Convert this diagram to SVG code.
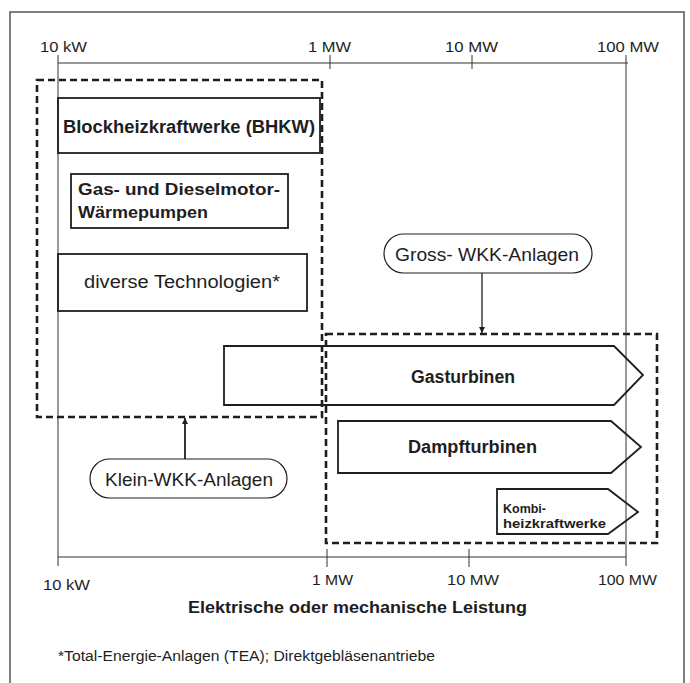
<svg xmlns="http://www.w3.org/2000/svg" width="690" height="683" viewBox="0 0 690 683">
<style>
text{font-family:"Liberation Sans",Arial,sans-serif;fill:#1e1e1e}
.b{font-weight:bold}
.box{fill:none;stroke:#1e1e1e;stroke-width:1.8}
.pill{fill:#fff;stroke:#1e1e1e;stroke-width:1.2}
.dash{fill:none;stroke:#1e1e1e;stroke-width:2.6;stroke-dasharray:7 4}
.ax{fill:none;stroke:#333;stroke-width:1}
.tick{font-size:14.5px}
</style>
<defs>
<marker id="ah" viewBox="0 0 10 10" refX="10" refY="5" markerWidth="6" markerHeight="7" orient="auto" markerUnits="userSpaceOnUse">
<path d="M0,0 L10,5 L0,10 z" fill="#1e1e1e"/>
</marker>
</defs>
<rect x="0" y="0" width="690" height="683" fill="#fff"/>
<rect x="10" y="12" width="674" height="700" fill="none" stroke="#555" stroke-width="1.5"/>

<g id="axes">
<line class="ax" x1="58" y1="63" x2="628" y2="63"/>
<line class="ax" x1="58" y1="55" x2="58" y2="566"/>
<line class="ax" x1="626" y1="55" x2="626" y2="566"/>
<line class="ax" x1="330" y1="55" x2="330" y2="69"/>
<line class="ax" x1="472" y1="55" x2="472" y2="69"/>
<line class="ax" x1="58" y1="557" x2="626" y2="557"/>
<line class="ax" x1="327" y1="549" x2="327" y2="567"/>
<line class="ax" x1="469" y1="549" x2="469" y2="567"/>
<text class="tick" x="40" y="52" textLength="47" lengthAdjust="spacingAndGlyphs">10 kW</text>
<text class="tick" x="308" y="52" textLength="43" lengthAdjust="spacingAndGlyphs">1 MW</text>
<text class="tick" x="445" y="52" textLength="53" lengthAdjust="spacingAndGlyphs">10 MW</text>
<text class="tick" x="597" y="52" textLength="62" lengthAdjust="spacingAndGlyphs">100 MW</text>
<text class="tick" x="43" y="590" textLength="47" lengthAdjust="spacingAndGlyphs">10 kW</text>
<text class="tick" x="312" y="585" textLength="41" lengthAdjust="spacingAndGlyphs">1 MW</text>
<text class="tick" x="447" y="585" textLength="52" lengthAdjust="spacingAndGlyphs">10 MW</text>
<text class="tick" x="598" y="585" textLength="59" lengthAdjust="spacingAndGlyphs">100 MW</text>
<text class="b" x="188" y="613" font-size="17" textLength="339" lengthAdjust="spacingAndGlyphs">Elektrische oder mechanische Leistung</text>
<text x="58" y="661" font-size="14" textLength="377" lengthAdjust="spacingAndGlyphs">*Total-Energie-Anlagen (TEA); Direktgebläsenantriebe</text>
</g>

<g id="bhkw">
<rect class="box" x="58" y="98" width="262" height="55"/>
<text class="b" x="63" y="133" font-size="18" textLength="252" lengthAdjust="spacingAndGlyphs">Blockheizkraftwerke (BHKW)</text>
</g>
<g id="gas">
<rect class="box" x="71" y="174" width="217" height="54"/>
<text class="b" x="78" y="195" font-size="17" textLength="202" lengthAdjust="spacingAndGlyphs">Gas- und  Dieselmotor-</text>
<text class="b" x="78" y="218" font-size="17" textLength="130" lengthAdjust="spacingAndGlyphs">Wärmepumpen</text>
</g>
<g id="diverse">
<rect class="box" x="58" y="254" width="249" height="57"/>
<text x="84" y="288" font-size="18" textLength="196" lengthAdjust="spacingAndGlyphs">diverse Technologien*</text>
</g>

<g id="gasturbinen">
<path class="box" d="M224,346 L614,346 L643,375 L614,405 L224,405 Z"/>
<text class="b" x="411" y="383" font-size="18" textLength="104" lengthAdjust="spacingAndGlyphs">Gasturbinen</text>
</g>
<g id="dampfturbinen">
<path class="box" d="M338,421 L611,421 L641,447 L611,473 L338,473 Z"/>
<text class="b" x="408" y="453" font-size="18" textLength="129" lengthAdjust="spacingAndGlyphs">Dampfturbinen</text>
</g>
<g id="kombi">
<path class="box" d="M497,489 L608,489 L638,512 L608,534 L497,534 Z"/>
<text class="b" x="503" y="513" font-size="13.5" textLength="43" lengthAdjust="spacingAndGlyphs">Kombi-</text>
<text class="b" x="503" y="528" font-size="13.5" textLength="103" lengthAdjust="spacingAndGlyphs">heizkraftwerke</text>
</g>

<g id="klein-group">
<rect class="dash" x="37" y="80" width="285" height="337"/>
</g>
<g id="gross-group">
<rect class="dash" x="326" y="334" width="331" height="209"/>
</g>

<g id="gross">
<rect class="pill" x="384" y="234" width="208" height="39" rx="19.5"/>
<text x="395" y="261" font-size="18.5" textLength="184" lengthAdjust="spacingAndGlyphs">Gross- WKK-Anlagen</text>
</g>
<g id="klein">
<rect class="pill" x="90" y="459" width="197" height="39" rx="19.5"/>
<text x="105" y="486" font-size="19" textLength="168" lengthAdjust="spacingAndGlyphs">Klein-WKK-Anlagen</text>
</g>

<g id="connectors">
<line x1="482" y1="273" x2="482" y2="333" stroke="#1e1e1e" stroke-width="1.3" marker-end="url(#ah)"/>
<line x1="185" y1="459" x2="185" y2="418" stroke="#1e1e1e" stroke-width="1.8" marker-end="url(#ah)"/>
</g>
</svg>
